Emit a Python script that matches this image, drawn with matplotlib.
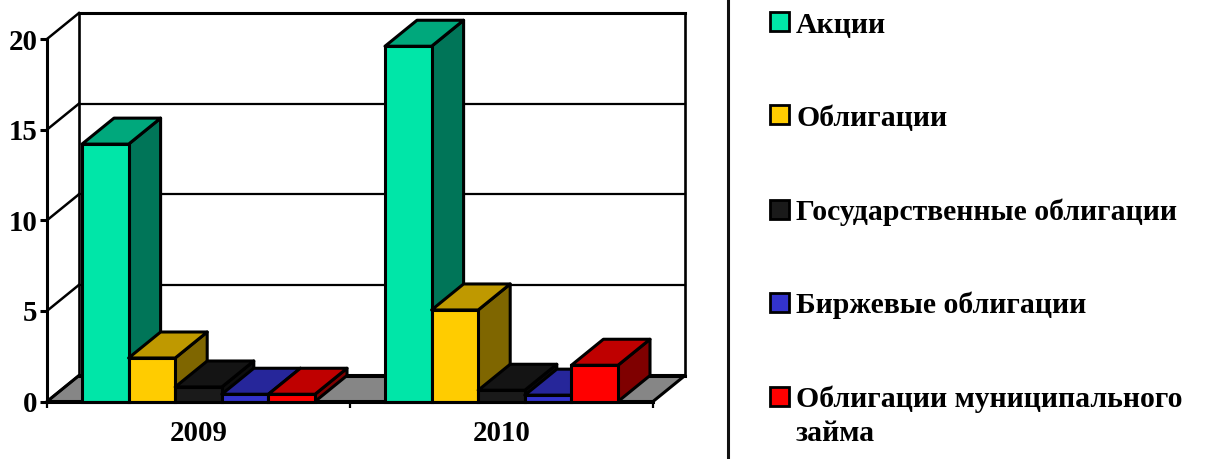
import matplotlib
matplotlib.use("Agg")
import matplotlib.pyplot as plt
from matplotlib.patches import Polygon, Rectangle

plt.rcParams['font.family'] = ['Liberation Serif', 'DejaVu Serif']
plt.rcParams['font.weight'] = 'bold'

years = ['2009', '2010']
series = ['Акции', 'Облигации', 'Государственные облигации', 'Биржевые облигации',
          'Облигации муниципального\nзайма']
aktsii = [14.2, 19.6]
obligatsii = [2.4, 5.05]
gos_obl = [0.8, 0.62]
birzh_obl = [0.4, 0.35]
munic_obl = [0.4, 2.0]
yticks = [0, 5, 10, 15, 20]
values = [aktsii, obligatsii, gos_obl, birzh_obl, munic_obl]

front = ['#00E6A8', '#FFCC00', '#1A1A1A', '#3333CC', '#FF0000']
top = ['#00A87C', '#BF9900', '#141414', '#26269A', '#BF0000']
side = ['#007558', '#7F6600', '#0D0D0D', '#1A1A66', '#7F0000']
floor_c = '#868686'

W, H = 1210, 459
fig = plt.figure(figsize=(W / 100, H / 100), dpi=100)
x0, x1, y0, y1 = 47, 653, 401.5, 39
ax = fig.add_axes([x0 / W, 1 - y0 / H, (x1 - x0) / W, (y0 - y1) / H])
ax.set_xlim(0, 2)
ax.set_ylim(0, 20)
ax.patch.set_visible(False)

LW = 2.2
dx = 32 / 303
dy = 26 / 18.125
offset = 35 / 303
bw = 46.6 / 303

# floor and walls
ax.add_patch(Polygon([(0, 0), (2, 0), (2 + dx, dy), (dx, dy)], fc=floor_c, ec='black',
                     lw=LW, clip_on=False, zorder=1, joinstyle='round'))
for v in yticks:
    lw = LW if v in (0, 20) else 1.6
    ax.plot([dx, 2 + dx], [v + dy, v + dy], color='black', lw=lw, clip_on=False, zorder=1.5)
    ax.plot([0, dx], [v, v + dy], color='black', lw=1.8, clip_on=False, zorder=1.5)
ax.plot([dx, dx], [dy, 20 + dy], color='black', lw=1.9, clip_on=False, zorder=1.5)
ax.plot([2 + dx, 2 + dx], [dy, 20 + dy], color='black', lw=1.9, clip_on=False, zorder=1.5)

# bars
z = 2
for g in range(len(years)):
    for s, vals in enumerate(values):
        v = vals[g]
        xl = g + offset + s * bw
        xr = xl + bw
        ax.add_patch(Polygon([(xr, 0), (xr + dx, dy), (xr + dx, v + dy), (xr, v)], fc=side[s],
                             ec='black', lw=LW, clip_on=False, zorder=z, joinstyle='round'))
        ax.add_patch(Polygon([(xl, v), (xr, v), (xr + dx, v + dy), (xl + dx, v + dy)], fc=top[s],
                             ec='black', lw=LW, clip_on=False, zorder=z, joinstyle='round'))
        ax.bar(xl, v, width=bw, align='edge', color=front[s], edgecolor='black', linewidth=LW,
               clip_on=False, zorder=z + 0.5)
        z += 1

for sp in ('top', 'right'):
    ax.spines[sp].set_visible(False)
for sp in ('left', 'bottom'):
    ax.spines[sp].set_linewidth(LW)
    ax.spines[sp].set_zorder(50)

ax.set_yticks(yticks)
ax.set_xticks([0, 1, 2])
ax.set_xticklabels([])
ax.set_xticks([0.5, 1.5], minor=True)
ax.set_xticklabels(years, minor=True, fontsize=20.8, fontweight='bold')
ax.tick_params(axis='y', length=5, width=LW, labelsize=20.8, pad=2)
ax.tick_params(axis='x', which='major', length=4.3, width=1.6)
ax.tick_params(axis='x', which='minor', length=0, pad=13.5)

# separator
fig.add_artist(plt.Line2D([727.5 / W] * 2, [0, 1], color='#111111', lw=2.2))

# legend
rows = [21.5, 115, 209, 302, 396]
for name, c, yc in zip(series, front, rows):
    fig.add_artist(Rectangle((770 / W, 1 - (yc + 9.5) / H), 19 / W, 19 / H, fc=c, ec='black',
                             lw=2.0, transform=fig.transFigure))
    lines = name.split('\n')
    for i, line in enumerate(lines):
        fig.text(796 / W, 1 - (yc + 11 + 34 * i) / H, line, fontsize=21.4, fontweight='bold',
                 va='baseline', ha='left')

fig.savefig('out.png', dpi=100)
